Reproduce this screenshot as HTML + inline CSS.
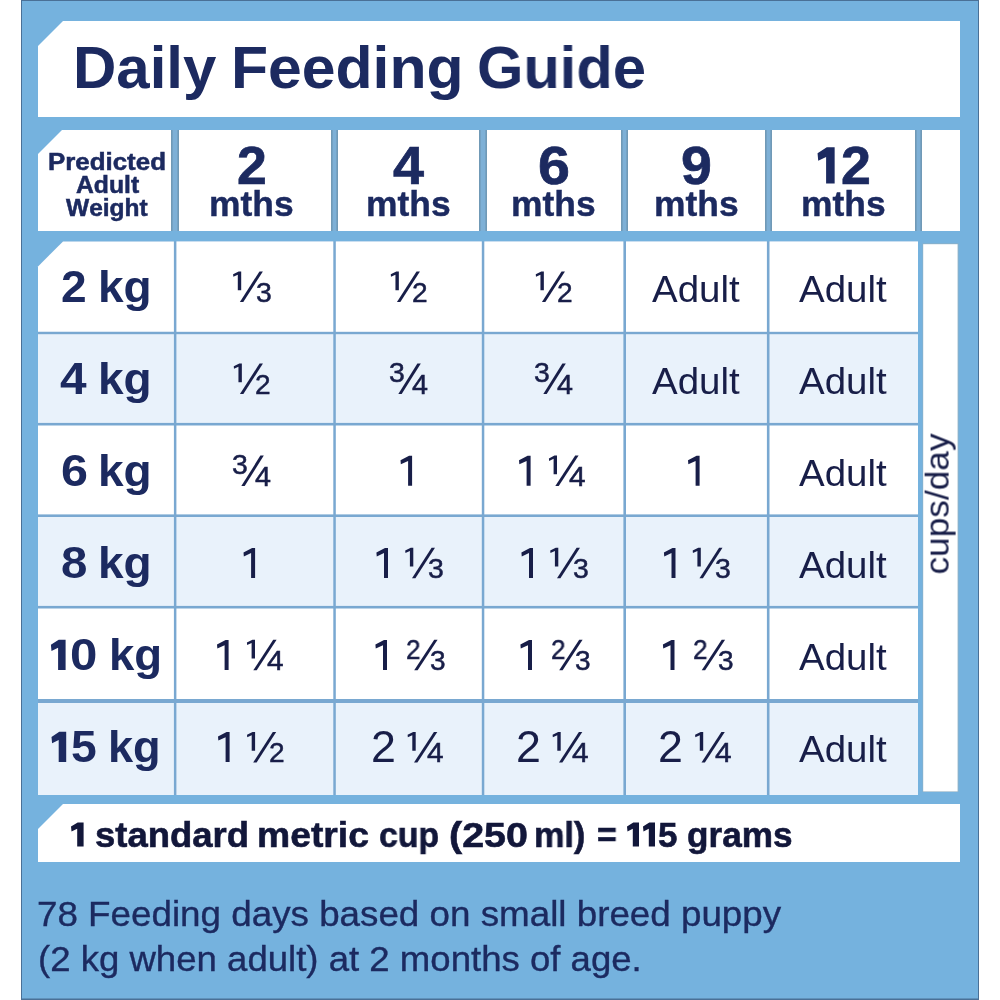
<!DOCTYPE html>
<html lang="en">
<head>
<meta charset="utf-8">
<title>Daily Feeding Guide</title>
<style>
html,body{margin:0;padding:0;background:#fff;}
body{width:1000px;height:1000px;position:relative;overflow:hidden;font-family:"Liberation Sans",sans-serif;font-kerning:none;}
svg{position:absolute;left:0;top:0;}
.t{position:absolute;line-height:1;white-space:nowrap;transform-origin:0 0;will-change:transform;}
</style>
</head>
<body>
<svg width="1000" height="1000" viewBox="0 0 1000 1000">
<rect x="21" y="0" width="958" height="1000" fill="#4a7096"/>
<rect x="22" y="1" width="956" height="997.5" fill="#75b2de"/>
<polygon points="63.00,21.00 960.00,21.00 960.00,117.00 38.00,117.00 38.00,46.00" fill="#fff"/>
<polygon points="62.00,130.00 171.00,130.00 171.00,231.00 38.00,231.00 38.00,154.00" fill="#fff"/>
<rect x="179" y="130" width="152" height="101" fill="#fff"/>
<rect x="338" y="130" width="141" height="101" fill="#fff"/>
<rect x="487" y="130" width="134" height="101" fill="#fff"/>
<rect x="628" y="130" width="137" height="101" fill="#fff"/>
<rect x="772" y="130" width="143" height="101" fill="#fff"/>
<rect x="922" y="130" width="38" height="101" fill="#fff"/>
<rect x="171" y="130" width="8" height="101" fill="#7099b6"/>
<rect x="172.6" y="130" width="4.8" height="101" fill="#7eb0d6"/>
<rect x="331" y="130" width="7" height="101" fill="#7099b6"/>
<rect x="332.6" y="130" width="3.8" height="101" fill="#7eb0d6"/>
<rect x="479" y="130" width="8" height="101" fill="#7099b6"/>
<rect x="480.6" y="130" width="4.8" height="101" fill="#7eb0d6"/>
<rect x="621" y="130" width="7" height="101" fill="#7099b6"/>
<rect x="622.6" y="130" width="3.8" height="101" fill="#7eb0d6"/>
<rect x="765" y="130" width="7" height="101" fill="#7099b6"/>
<rect x="766.6" y="130" width="3.8" height="101" fill="#7eb0d6"/>
<rect x="915" y="130" width="7" height="101" fill="#7099b6"/>
<rect x="916.6" y="130" width="3.8" height="101" fill="#7eb0d6"/>
<polygon points="63.00,241.40 918.00,241.40 918.00,795.00 38.00,795.00 38.00,266.40" fill="#79a8d1"/>
<polygon points="63.00,241.40 173.90,241.40 173.90,331.80 38.00,331.80 38.00,266.40" fill="#fff"/>
<rect x="176.4" y="241.4" width="156.9" height="90.4" fill="#fff"/>
<rect x="335.8" y="241.4" width="146" height="90.4" fill="#fff"/>
<rect x="484.3" y="241.4" width="139.1" height="90.4" fill="#fff"/>
<rect x="626" y="241.4" width="140.9" height="90.4" fill="#fff"/>
<rect x="769.5" y="241.4" width="148.5" height="90.4" fill="#fff"/>
<rect x="38" y="334.2" width="135.9" height="88.7" fill="#e9f2fb"/>
<rect x="176.4" y="334.2" width="156.9" height="88.7" fill="#e9f2fb"/>
<rect x="335.8" y="334.2" width="146" height="88.7" fill="#e9f2fb"/>
<rect x="484.3" y="334.2" width="139.1" height="88.7" fill="#e9f2fb"/>
<rect x="626" y="334.2" width="140.9" height="88.7" fill="#e9f2fb"/>
<rect x="769.5" y="334.2" width="148.5" height="88.7" fill="#e9f2fb"/>
<rect x="38" y="425.5" width="135.9" height="88.9" fill="#fff"/>
<rect x="176.4" y="425.5" width="156.9" height="88.9" fill="#fff"/>
<rect x="335.8" y="425.5" width="146" height="88.9" fill="#fff"/>
<rect x="484.3" y="425.5" width="139.1" height="88.9" fill="#fff"/>
<rect x="626" y="425.5" width="140.9" height="88.9" fill="#fff"/>
<rect x="769.5" y="425.5" width="148.5" height="88.9" fill="#fff"/>
<rect x="38" y="517" width="135.9" height="88.9" fill="#e9f2fb"/>
<rect x="176.4" y="517" width="156.9" height="88.9" fill="#e9f2fb"/>
<rect x="335.8" y="517" width="146" height="88.9" fill="#e9f2fb"/>
<rect x="484.3" y="517" width="139.1" height="88.9" fill="#e9f2fb"/>
<rect x="626" y="517" width="140.9" height="88.9" fill="#e9f2fb"/>
<rect x="769.5" y="517" width="148.5" height="88.9" fill="#e9f2fb"/>
<rect x="38" y="608.5" width="135.9" height="90.5" fill="#fff"/>
<rect x="176.4" y="608.5" width="156.9" height="90.5" fill="#fff"/>
<rect x="335.8" y="608.5" width="146" height="90.5" fill="#fff"/>
<rect x="484.3" y="608.5" width="139.1" height="90.5" fill="#fff"/>
<rect x="626" y="608.5" width="140.9" height="90.5" fill="#fff"/>
<rect x="769.5" y="608.5" width="148.5" height="90.5" fill="#fff"/>
<rect x="38" y="703" width="135.9" height="92" fill="#e9f2fb"/>
<rect x="176.4" y="703" width="156.9" height="92" fill="#e9f2fb"/>
<rect x="335.8" y="703" width="146" height="92" fill="#e9f2fb"/>
<rect x="484.3" y="703" width="139.1" height="92" fill="#e9f2fb"/>
<rect x="626" y="703" width="140.9" height="92" fill="#e9f2fb"/>
<rect x="769.5" y="703" width="148.5" height="92" fill="#e9f2fb"/>
<rect x="922.6" y="243.4" width="35.9" height="548.6" fill="#8fb0c4"/>
<rect x="923.2" y="244.2" width="34.4" height="547.2" fill="#fff"/>
<polygon points="63.00,804.00 960.00,804.00 960.00,862.00 38.00,862.00 38.00,829.00" fill="#fff"/>
</svg>
<div class="t" style="left:73.19px;top:38px;font-size:60px;color:#1c2a60;font-weight:700;transform:scaleX(0.9980);">Daily</div>
<div class="t" style="left:231.44px;top:38px;font-size:60px;color:#1c2a60;font-weight:700;transform:scaleX(1.0113);">Feeding</div>
<div class="t" style="left:476.56px;top:38px;font-size:60px;color:#1c2a60;font-weight:700;transform:scaleX(0.9934);">Guide</div>
<div class="t" style="left:48.39px;top:151px;font-size:23.5px;color:#1c2a60;font-weight:700;-webkit-text-stroke:0.5px #1c2a60;transform:scaleX(1.1013);">Predicted</div>
<div class="t" style="left:75.50px;top:174px;font-size:23.5px;color:#1c2a60;font-weight:700;-webkit-text-stroke:0.5px #1c2a60;transform:scaleX(1.0526);">Adult</div>
<div class="t" style="left:66.34px;top:197px;font-size:23.5px;color:#1c2a60;font-weight:700;-webkit-text-stroke:0.5px #1c2a60;transform:scaleX(1.0433);">Weight</div>
<div class="t" style="left:236.50px;top:139px;font-size:53px;color:#1c2a60;font-weight:700;-webkit-text-stroke:0.7px #1c2a60;transform:scaleX(1.0108);">2</div>
<div class="t" style="left:393.42px;top:139px;font-size:53px;color:#1c2a60;font-weight:700;-webkit-text-stroke:0.7px #1c2a60;transform:scaleX(1.0519);">4</div>
<div class="t" style="left:538.28px;top:139px;font-size:53px;color:#1c2a60;font-weight:700;-webkit-text-stroke:0.7px #1c2a60;transform:scaleX(1.0828);">6</div>
<div class="t" style="left:680.84px;top:139px;font-size:53px;color:#1c2a60;font-weight:700;-webkit-text-stroke:0.7px #1c2a60;transform:scaleX(1.0466);">9</div>
<div class="t" style="left:841.24px;top:139px;font-size:53px;color:#1c2a60;font-weight:700;-webkit-text-stroke:0.7px #1c2a60;transform:scaleX(1.0127);">2</div>
<div class="t" style="left:209.07px;top:186px;font-size:35px;color:#1c2a60;font-weight:700;-webkit-text-stroke:0.4px #1c2a60;transform:scaleX(1.0115);">mths</div>
<div class="t" style="left:366.07px;top:186px;font-size:35px;color:#1c2a60;font-weight:700;-webkit-text-stroke:0.4px #1c2a60;transform:scaleX(1.0115);">mths</div>
<div class="t" style="left:511.07px;top:186px;font-size:35px;color:#1c2a60;font-weight:700;-webkit-text-stroke:0.4px #1c2a60;transform:scaleX(1.0115);">mths</div>
<div class="t" style="left:653.57px;top:186px;font-size:35px;color:#1c2a60;font-weight:700;-webkit-text-stroke:0.4px #1c2a60;transform:scaleX(1.0115);">mths</div>
<div class="t" style="left:800.77px;top:186px;font-size:35px;color:#1c2a60;font-weight:700;-webkit-text-stroke:0.4px #1c2a60;transform:scaleX(1.0115);">mths</div>
<div class="t" style="left:61.20px;top:266px;font-size:43.5px;color:#1c2a60;font-weight:700;transform:scaleX(1.0600);">2</div>
<div class="t" style="left:97.59px;top:266px;font-size:43.5px;color:#1c2a60;font-weight:700;transform:scaleX(1.0576);">kg</div>
<div class="t" style="left:60.28px;top:358px;font-size:43.5px;color:#1c2a60;font-weight:700;transform:scaleX(1.0987);">4</div>
<div class="t" style="left:97.59px;top:358px;font-size:43.5px;color:#1c2a60;font-weight:700;transform:scaleX(1.0576);">kg</div>
<div class="t" style="left:60.83px;top:450px;font-size:43.5px;color:#1c2a60;font-weight:700;transform:scaleX(1.1128);">6</div>
<div class="t" style="left:97.59px;top:450px;font-size:43.5px;color:#1c2a60;font-weight:700;transform:scaleX(1.0576);">kg</div>
<div class="t" style="left:61.10px;top:542px;font-size:43.5px;color:#1c2a60;font-weight:700;transform:scaleX(1.0897);">8</div>
<div class="t" style="left:97.59px;top:542px;font-size:43.5px;color:#1c2a60;font-weight:700;transform:scaleX(1.0576);">kg</div>
<div class="t" style="left:70.15px;top:634px;font-size:43.5px;color:#1c2a60;font-weight:700;transform:scaleX(1.1311);">0</div>
<div class="t" style="left:108.92px;top:634px;font-size:43.5px;color:#1c2a60;font-weight:700;transform:scaleX(1.0465);">kg</div>
<div class="t" style="left:71.08px;top:726px;font-size:43.5px;color:#1c2a60;font-weight:700;transform:scaleX(1.0627);">5</div>
<div class="t" style="left:108.35px;top:726px;font-size:43.5px;color:#1c2a60;font-weight:700;transform:scaleX(1.0376);">kg</div>
<div class="t" style="left:255.68px;top:279px;font-size:27.5px;color:#181e48;-webkit-text-stroke:0.5px #181e48;transform:scaleX(1.0341);">3</div>
<div class="t" style="left:412.39px;top:279px;font-size:27.5px;color:#181e48;-webkit-text-stroke:0.5px #181e48;transform:scaleX(1.0209);">2</div>
<div class="t" style="left:557.39px;top:279px;font-size:27.5px;color:#181e48;-webkit-text-stroke:0.5px #181e48;transform:scaleX(1.0209);">2</div>
<div class="t" style="left:652.12px;top:272px;font-size:36.6px;color:#181e48;transform:scaleX(1.0520);">Adult</div>
<div class="t" style="left:799.32px;top:272px;font-size:36.6px;color:#181e48;transform:scaleX(1.0520);">Adult</div>
<div class="t" style="left:255.39px;top:371px;font-size:27.5px;color:#181e48;-webkit-text-stroke:0.5px #181e48;transform:scaleX(1.0209);">2</div>
<div class="t" style="left:389.48px;top:359px;font-size:27.5px;color:#181e48;-webkit-text-stroke:0.5px #181e48;transform:scaleX(1.0341);">3</div>
<div class="t" style="left:411.90px;top:371px;font-size:27.5px;color:#181e48;-webkit-text-stroke:0.5px #181e48;transform:scaleX(1.0448);">4</div>
<div class="t" style="left:534.48px;top:359px;font-size:27.5px;color:#181e48;-webkit-text-stroke:0.5px #181e48;transform:scaleX(1.0341);">3</div>
<div class="t" style="left:556.90px;top:371px;font-size:27.5px;color:#181e48;-webkit-text-stroke:0.5px #181e48;transform:scaleX(1.0448);">4</div>
<div class="t" style="left:652.12px;top:364px;font-size:36.6px;color:#181e48;transform:scaleX(1.0520);">Adult</div>
<div class="t" style="left:799.32px;top:364px;font-size:36.6px;color:#181e48;transform:scaleX(1.0520);">Adult</div>
<div class="t" style="left:232.48px;top:451px;font-size:27.5px;color:#181e48;-webkit-text-stroke:0.5px #181e48;transform:scaleX(1.0341);">3</div>
<div class="t" style="left:254.90px;top:463px;font-size:27.5px;color:#181e48;-webkit-text-stroke:0.5px #181e48;transform:scaleX(1.0448);">4</div>
<div class="t" style="left:568.69px;top:463px;font-size:27.5px;color:#181e48;-webkit-text-stroke:0.5px #181e48;transform:scaleX(1.0865);">4</div>
<div class="t" style="left:799.32px;top:456px;font-size:36.6px;color:#181e48;transform:scaleX(1.0520);">Adult</div>
<div class="t" style="left:427.78px;top:555px;font-size:27.5px;color:#181e48;-webkit-text-stroke:0.5px #181e48;transform:scaleX(1.0341);">3</div>
<div class="t" style="left:572.78px;top:555px;font-size:27.5px;color:#181e48;-webkit-text-stroke:0.5px #181e48;transform:scaleX(1.0341);">3</div>
<div class="t" style="left:715.28px;top:555px;font-size:27.5px;color:#181e48;-webkit-text-stroke:0.5px #181e48;transform:scaleX(1.0341);">3</div>
<div class="t" style="left:799.32px;top:548px;font-size:36.6px;color:#181e48;transform:scaleX(1.0520);">Adult</div>
<div class="t" style="left:266.69px;top:647px;font-size:27.5px;color:#181e48;-webkit-text-stroke:0.5px #181e48;transform:scaleX(1.0865);">4</div>
<div class="t" style="left:405.52px;top:636px;font-size:27.5px;color:#181e48;-webkit-text-stroke:0.5px #181e48;transform:scaleX(0.9518);">2</div>
<div class="t" style="left:430.19px;top:647px;font-size:27.5px;color:#181e48;-webkit-text-stroke:0.5px #181e48;transform:scaleX(1.0193);">3</div>
<div class="t" style="left:550.52px;top:636px;font-size:27.5px;color:#181e48;-webkit-text-stroke:0.5px #181e48;transform:scaleX(0.9518);">2</div>
<div class="t" style="left:575.19px;top:647px;font-size:27.5px;color:#181e48;-webkit-text-stroke:0.5px #181e48;transform:scaleX(1.0193);">3</div>
<div class="t" style="left:693.02px;top:636px;font-size:27.5px;color:#181e48;-webkit-text-stroke:0.5px #181e48;transform:scaleX(0.9518);">2</div>
<div class="t" style="left:717.69px;top:647px;font-size:27.5px;color:#181e48;-webkit-text-stroke:0.5px #181e48;transform:scaleX(1.0193);">3</div>
<div class="t" style="left:799.32px;top:640px;font-size:36.6px;color:#181e48;transform:scaleX(1.0520);">Adult</div>
<div class="t" style="left:268.64px;top:739px;font-size:27.5px;color:#181e48;-webkit-text-stroke:0.5px #181e48;transform:scaleX(1.0209);">2</div>
<div class="t" style="left:370.75px;top:725px;font-size:44px;color:#181e48;transform:scaleX(1.0177);">2</div>
<div class="t" style="left:427.39px;top:739px;font-size:27.5px;color:#181e48;-webkit-text-stroke:0.5px #181e48;transform:scaleX(1.0865);">4</div>
<div class="t" style="left:515.75px;top:725px;font-size:44px;color:#181e48;transform:scaleX(1.0177);">2</div>
<div class="t" style="left:572.39px;top:739px;font-size:27.5px;color:#181e48;-webkit-text-stroke:0.5px #181e48;transform:scaleX(1.0865);">4</div>
<div class="t" style="left:658.25px;top:725px;font-size:44px;color:#181e48;transform:scaleX(1.0177);">2</div>
<div class="t" style="left:714.89px;top:739px;font-size:27.5px;color:#181e48;-webkit-text-stroke:0.5px #181e48;transform:scaleX(1.0865);">4</div>
<div class="t" style="left:799.32px;top:732px;font-size:36.6px;color:#181e48;transform:scaleX(1.0520);">Adult</div>
<div class="t" style="left:95.03px;top:817px;font-size:35px;color:#12173a;font-weight:700;-webkit-text-stroke:0.6px #12173a;transform:scaleX(1.0423);">standard</div>
<div class="t" style="left:256.86px;top:817px;font-size:35px;color:#12173a;font-weight:700;-webkit-text-stroke:0.6px #12173a;transform:scaleX(1.0653);">metric</div>
<div class="t" style="left:378.97px;top:817px;font-size:35px;color:#12173a;font-weight:700;-webkit-text-stroke:0.6px #12173a;transform:scaleX(0.9663);">cup</div>
<div class="t" style="left:449.37px;top:817px;font-size:35px;color:#12173a;font-weight:700;-webkit-text-stroke:0.6px #12173a;transform:scaleX(1.1264);">(250</div>
<div class="t" style="left:534.04px;top:817px;font-size:35px;color:#12173a;font-weight:700;-webkit-text-stroke:0.6px #12173a;transform:scaleX(0.9786);">ml)</div>
<div class="t" style="left:596.88px;top:817px;font-size:35px;color:#12173a;font-weight:700;-webkit-text-stroke:0.6px #12173a;transform:scaleX(0.9696);">=</div>
<div class="t" style="left:658.22px;top:817px;font-size:35px;color:#12173a;font-weight:700;-webkit-text-stroke:0.6px #12173a;">5</div>
<div class="t" style="left:687.26px;top:817px;font-size:35px;color:#12173a;font-weight:700;-webkit-text-stroke:0.6px #12173a;transform:scaleX(1.0041);">grams</div>
<div class="t" style="left:36.55px;top:897px;font-size:35.5px;color:#1c2a60;-webkit-text-stroke:0.35px #1c2a60;transform:scaleX(1.0359);">78 Feeding days based on small breed puppy</div>
<div class="t" style="left:38.11px;top:942px;font-size:35.5px;color:#1c2a60;-webkit-text-stroke:0.35px #1c2a60;transform:scaleX(1.0301);">(2 kg when adult) at 2 months of age.</div>
<div class="t" style="left:0;top:0;font-size:34px;color:#181e48;transform:translate(919.60px,574.50px) rotate(-90deg) scaleX(1.0366);">cups/day</div>
<svg width="1000" height="1000" viewBox="0 0 1000 1000">
<polygon points="817.55,153.27 826.78,147.15 834.65,147.15 834.65,183.60 826.10,183.60 826.10,156.88 818.23,160.86" fill="#1c2a60"/>
<polygon points="50.90,644.79 58.70,639.70 65.60,639.70 65.60,670.00 58.10,670.00 58.10,647.79 51.49,651.09" fill="#1c2a60"/>
<polygon points="51.50,736.89 59.30,731.80 66.20,731.80 66.20,762.10 58.70,762.10 58.70,739.89 52.09,743.19" fill="#1c2a60"/>
<polygon points="233.10,274.21 238.65,271.40 241.20,271.40 241.20,290.15 237.80,290.15 237.80,274.64 233.34,276.71" fill="#181e48"/>
<polygon points="239.90,301.90 243.30,301.90 262.90,271.40 259.50,271.40" fill="#181e48"/>
<polygon points="390.75,274.21 396.30,271.40 398.85,271.40 398.85,290.15 395.45,290.15 395.45,274.64 390.99,276.71" fill="#181e48"/>
<polygon points="396.95,301.90 400.35,301.90 419.95,271.40 416.55,271.40" fill="#181e48"/>
<polygon points="535.75,274.21 541.30,271.40 543.85,271.40 543.85,290.15 540.45,290.15 540.45,274.64 535.99,276.71" fill="#181e48"/>
<polygon points="541.95,301.90 545.35,301.90 564.95,271.40 561.55,271.40" fill="#181e48"/>
<polygon points="233.75,366.31 239.30,363.50 241.85,363.50 241.85,382.25 238.45,382.25 238.45,366.74 233.99,368.81" fill="#181e48"/>
<polygon points="239.95,394.00 243.35,394.00 262.95,363.50 259.55,363.50" fill="#181e48"/>
<polygon points="398.30,394.00 401.70,394.00 420.80,363.50 417.40,363.50" fill="#181e48"/>
<polygon points="543.30,394.00 546.70,394.00 565.80,363.50 562.40,363.50" fill="#181e48"/>
<polygon points="241.30,486.10 244.70,486.10 263.80,455.60 260.40,455.60" fill="#181e48"/>
<polygon points="400.50,460.30 409.10,455.80 412.10,455.80 412.10,485.80 408.10,485.80 408.10,460.99 400.85,464.29" fill="#181e48"/>
<polygon points="519.00,460.30 527.60,455.80 530.60,455.80 530.60,485.80 526.60,485.80 526.60,460.99 519.35,464.29" fill="#181e48"/>
<polygon points="548.90,458.41 554.45,455.60 557.00,455.60 557.00,474.35 553.60,474.35 553.60,458.84 549.14,460.91" fill="#181e48"/>
<polygon points="555.30,486.10 558.70,486.10 578.60,455.60 575.20,455.60" fill="#181e48"/>
<polygon points="688.00,460.30 696.60,455.80 699.60,455.80 699.60,485.80 695.60,485.80 695.60,460.99 688.35,464.29" fill="#181e48"/>
<polygon points="243.50,552.40 252.10,547.90 255.10,547.90 255.10,577.90 251.10,577.90 251.10,553.09 243.85,556.39" fill="#181e48"/>
<polygon points="376.40,552.40 385.00,547.90 388.00,547.90 388.00,577.90 384.00,577.90 384.00,553.09 376.75,556.39" fill="#181e48"/>
<polygon points="405.20,550.51 410.75,547.70 413.30,547.70 413.30,566.45 409.90,566.45 409.90,550.94 405.44,553.01" fill="#181e48"/>
<polygon points="412.00,578.20 415.40,578.20 435.00,547.70 431.60,547.70" fill="#181e48"/>
<polygon points="521.40,552.40 530.00,547.90 533.00,547.90 533.00,577.90 529.00,577.90 529.00,553.09 521.75,556.39" fill="#181e48"/>
<polygon points="550.20,550.51 555.75,547.70 558.30,547.70 558.30,566.45 554.90,566.45 554.90,550.94 550.44,553.01" fill="#181e48"/>
<polygon points="557.00,578.20 560.40,578.20 580.00,547.70 576.60,547.70" fill="#181e48"/>
<polygon points="663.90,552.40 672.50,547.90 675.50,547.90 675.50,577.90 671.50,577.90 671.50,553.09 664.25,556.39" fill="#181e48"/>
<polygon points="692.70,550.51 698.25,547.70 700.80,547.70 700.80,566.45 697.40,566.45 697.40,550.94 692.94,553.01" fill="#181e48"/>
<polygon points="699.50,578.20 702.90,578.20 722.50,547.70 719.10,547.70" fill="#181e48"/>
<polygon points="217.00,644.50 225.60,640.00 228.60,640.00 228.60,670.00 224.60,670.00 224.60,645.19 217.35,648.49" fill="#181e48"/>
<polygon points="246.90,642.61 252.45,639.80 255.00,639.80 255.00,658.55 251.60,658.55 251.60,643.04 247.14,645.11" fill="#181e48"/>
<polygon points="253.30,670.30 256.70,670.30 276.60,639.80 273.20,639.80" fill="#181e48"/>
<polygon points="375.40,644.50 384.00,640.00 387.00,640.00 387.00,670.00 383.00,670.00 383.00,645.19 375.75,648.49" fill="#181e48"/>
<polygon points="414.20,670.30 417.60,670.30 437.60,639.80 434.20,639.80" fill="#181e48"/>
<polygon points="520.40,644.50 529.00,640.00 532.00,640.00 532.00,670.00 528.00,670.00 528.00,645.19 520.75,648.49" fill="#181e48"/>
<polygon points="559.20,670.30 562.60,670.30 582.60,639.80 579.20,639.80" fill="#181e48"/>
<polygon points="662.90,644.50 671.50,640.00 674.50,640.00 674.50,670.00 670.50,670.00 670.50,645.19 663.25,648.49" fill="#181e48"/>
<polygon points="701.70,670.30 705.10,670.30 725.10,639.80 721.70,639.80" fill="#181e48"/>
<polygon points="218.00,736.60 226.60,732.10 229.60,732.10 229.60,762.10 225.60,762.10 225.60,737.29 218.35,740.59" fill="#181e48"/>
<polygon points="247.00,734.71 252.55,731.90 255.10,731.90 255.10,750.65 251.70,750.65 251.70,735.14 247.24,737.21" fill="#181e48"/>
<polygon points="253.20,762.40 256.60,762.40 276.20,731.90 272.80,731.90" fill="#181e48"/>
<polygon points="407.60,734.71 413.15,731.90 415.70,731.90 415.70,750.65 412.30,750.65 412.30,735.14 407.84,737.21" fill="#181e48"/>
<polygon points="414.00,762.40 417.40,762.40 437.30,731.90 433.90,731.90" fill="#181e48"/>
<polygon points="552.60,734.71 558.15,731.90 560.70,731.90 560.70,750.65 557.30,750.65 557.30,735.14 552.84,737.21" fill="#181e48"/>
<polygon points="559.00,762.40 562.40,762.40 582.30,731.90 578.90,731.90" fill="#181e48"/>
<polygon points="695.10,734.71 700.65,731.90 703.20,731.90 703.20,750.65 699.80,750.65 699.80,735.14 695.34,737.21" fill="#181e48"/>
<polygon points="701.50,762.40 704.90,762.40 724.80,731.90 721.40,731.90" fill="#181e48"/>
<polygon points="71.00,826.47 77.71,822.40 83.60,822.40 83.60,846.60 77.20,846.60 77.20,828.86 71.50,831.50" fill="#12173a"/>
<polygon points="627.00,826.47 633.30,822.40 639.00,822.40 639.00,846.60 632.80,846.60 632.80,828.86 627.48,831.50" fill="#12173a"/>
<polygon points="643.00,826.47 649.30,822.40 655.00,822.40 655.00,846.60 648.80,846.60 648.80,828.86 643.48,831.50" fill="#12173a"/>
</svg>
</body>
</html>
